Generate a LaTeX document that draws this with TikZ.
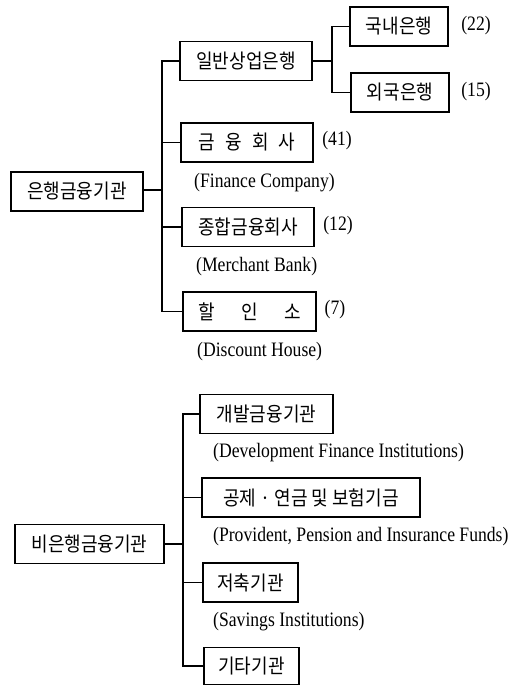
\documentclass[tikz,border=0pt]{standalone}
\usepackage{fontspec}
\newfontfamily\krfont{Noto Sans CJK KR}[FakeStretch=0.9]
\newfontfamily\enfont{Liberation Serif}[FakeStretch=0.86]
\begin{document}
\begin{tikzpicture}[x=1pt,y=-1pt,
  box/.style={draw,line width=1.1pt,inner sep=0pt,minimum height=39pt,
    font=\krfont\fontsize{20}{22}\selectfont},
  en/.style={inner sep=0pt,anchor=west,font=\enfont\fontsize{20.5}{23}\selectfont},
  num/.style={inner sep=0pt,font=\enfont\fontsize{20.5}{23}\selectfont},
  conn/.style={line width=1.1pt}]
\useasboundingbox (0,0) rectangle (511,685);
% ---------- bank financial institutions ----------
\node[box,minimum width=132pt] (r1) at (77,191.5) {은행금융기관};
\node[box,minimum width=132pt] (a1) at (246,61) {일반상업은행};
\node[box,minimum width=98pt] (a11) at (399,26.5) {국내은행};
\node[box,minimum width=98pt] (a12) at (400,92.5) {외국은행};
\node[box,minimum width=132pt] (a2) at (247,142.5) {금\hspace{10pt}융\hspace{10pt}회\hspace{10pt}사};
\node[box,minimum width=132pt] (a3) at (248,227) {종합금융회사};
\node[box,minimum width=133pt] (a4) at (249.5,311.5) {할\hspace{26.5pt}인\hspace{26.5pt}소};
\node[num] (n11) at (476,26) {(22)};
\node[num] (n12) at (476,92) {(15)};
\node[num] (n2) at (337,141) {(41)};
\node[num] (n3) at (338,226) {(12)};
\node[num] (n4) at (335,310) {(7)};
\node[en] (e2) at (194,183) {(Finance Company)};
\node[en] (e3) at (196,267) {(Merchant Bank)};
\node[en] (e4) at (197,352) {(Discount House)};
\coordinate (t1) at (162,190);
\coordinate (t2) at (332,61);
\draw[conn] (r1.east |- t1) -- (t1);
\draw[conn] (a1.west) -| (t1);
\draw[conn] (a2.west) -| (t1);
\draw[conn] (a3.west) -| (t1);
\draw[conn] (a4.west) -| (t1);
\draw[conn] (a1.east) -- (t2);
\draw[conn] (a11.west) -| (t2);
\draw[conn] (a12.west) -| (t2);
% ---------- non-bank financial institutions ----------
\node[box,minimum width=149pt] (r2) at (89.5,544) {비은행금융기관};
\node[box,minimum width=133pt] (b1) at (266.5,414) {개발금융기관};
\node[box,minimum width=218pt] (b2) at (311,497.5) {공제 · 연금 및 보험기금};
\node[box,minimum width=95pt] (b3) at (250.5,582.5) {저축기관};
\node[box,minimum width=95pt,minimum height=37pt] (b4) at (251.5,666) {기타기관};
\node[en] (f1) at (213,453) {(Development Finance Institutions)};
\node[en] (f2) at (213,537) {(Provident, Pension and Insurance Funds)};
\node[en] (f3) at (213,622) {(Savings Institutions)};
\coordinate (t3) at (183,544);
\draw[conn] (r2.east) -- (t3);
\draw[conn] (b1.west) -| (t3);
\draw[conn] (b2.west) -| (t3);
\draw[conn] (b3.west) -| (t3);
\draw[conn] (b4.west) -| (t3);
\end{tikzpicture}
\end{document}
